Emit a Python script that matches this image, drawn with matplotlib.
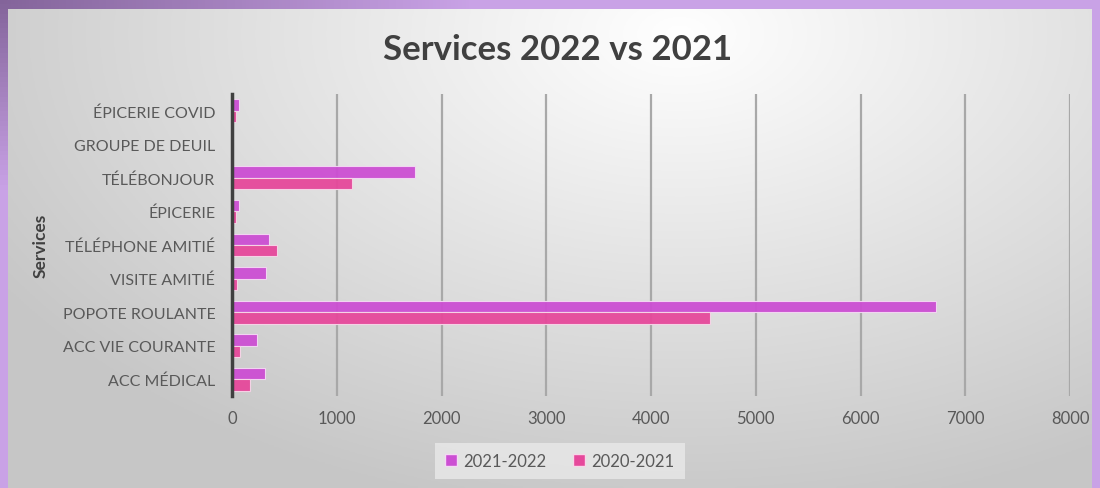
import numpy as np
import matplotlib
matplotlib.use("Agg")
import matplotlib.pyplot as plt
from matplotlib.patches import Patch

plt.rcParams["font.family"] = ["Lato", "DejaVu Sans"]

categories = [
    "ÉPICERIE COVID",
    "GROUPE DE DEUIL",
    "TÉLÉBONJOUR",
    "ÉPICERIE",
    "TÉLÉPHONE AMITIÉ",
    "VISITE AMITIÉ",
    "POPOTE ROULANTE",
    "ACC VIE COURANTE",
    "ACC MÉDICAL",
]
values_2122 = [65, 0, 1747, 65, 353, 325, 6725, 240, 312]
values_2021 = [40, 0, 1146, 40, 430, 48, 4567, 77, 172]
series_names = ["2021-2022", "2020-2021"]
xticks = [0, 1000, 2000, 3000, 4000, 5000, 6000, 7000, 8000]

col_2122 = "#cc4ed3"
col_2021 = "#e6489b"
txt = "#595959"

fig = plt.figure(figsize=(11, 4.89), dpi=100)
fig.patch.set_facecolor("#c7a0e3")

# darker purple in the top-left corner of the frame
frame = fig.add_axes([0, 0, 1, 1], zorder=-1)
fy, fx = np.mgrid[0:1:100j, 0:1:300j]
fr = np.clip(0.3 + 0.9 * np.hypot(fx / 0.55, fy / 0.5), 0, 1)
base = np.array([0x66, 0x4a, 0x7a]) / 255
light = np.array([0xc9, 0xa2, 0xe6]) / 255
frame.imshow(base + (light - base) * fr[..., None], aspect="auto", extent=[0, 1, 0, 1])
frame.set_axis_off()

# gradient background of the chart area
bg = fig.add_axes([8 / 1100, 0, 1084 / 1100, 479 / 489], zorder=0)
yy, xx = np.mgrid[0:1:200j, 0:1:400j]
d = np.sqrt(((xx - 0.62) / 0.8) ** 2 + ((yy - 0.05) / 1.1) ** 2)
shade = np.clip(1.0 - 0.24 * d, 0.78, 1.0)
bg.imshow(np.dstack([shade] * 3), aspect="auto", extent=[0, 1, 1, 0])
bg.set_axis_off()

ax = fig.add_axes([232 / 1100, 92 / 489, 838 / 1100, 302 / 489], zorder=1)
ax.patch.set_alpha(0)

y = np.arange(len(categories))
h = 0.34
ax.barh(y - h / 2, values_2122, height=h, color=col_2122, edgecolor="#f4d8f4",
        linewidth=0.8, alpha=0.95, label=series_names[0], zorder=3)
ax.barh(y + h / 2, values_2021, height=h, color=col_2021, edgecolor="#f7d6e8",
        linewidth=0.8, alpha=0.95, label=series_names[1], zorder=3)

ax.set_ylim(len(categories) - 0.5, -0.5)
ax.set_xlim(0, 8000)
ax.set_xticks(xticks)
ax.set_xticklabels([str(v) for v in xticks], fontsize=12, color=txt)
ax.set_yticks(y)
ax.set_yticklabels(categories, fontsize=11.5, color=txt)
ax.tick_params(axis="both", length=0, pad=10)
ax.tick_params(axis="y", pad=12)
ax.grid(axis="x", color="#a8a8a8", linewidth=1.6, zorder=1)
ax.set_axisbelow(True)
for s in ["top", "right", "bottom"]:
    ax.spines[s].set_visible(False)
ax.spines["left"].set_color("#404040")
ax.spines["left"].set_linewidth(2.5)
ax.spines["left"].set_zorder(4)

ax.set_ylabel("Services", fontsize=12.5, fontweight="bold", color="#404040", labelpad=10)

fig.text(0.507, 0.897, "Services 2022 vs 2021", ha="center", va="center",
         fontsize=25, fontweight="bold", color="#404040")

handles = [Patch(facecolor=col_2122, edgecolor="#f4d8f4"),
           Patch(facecolor=col_2021, edgecolor="#f7d6e8")]
leg = fig.legend(handles, series_names, loc="center", bbox_to_anchor=(560 / 1100, 1 - 462 / 489),
                 ncol=2, frameon=True, fontsize=12, handlelength=0.7, handleheight=0.7,
                 columnspacing=1.6, handletextpad=0.4, borderpad=0.6, fancybox=False)
leg.get_frame().set_facecolor("#e9e9e9")
leg.get_frame().set_edgecolor("none")
for t in leg.get_texts():
    t.set_color(txt)

fig.savefig("out.png", dpi=100)
